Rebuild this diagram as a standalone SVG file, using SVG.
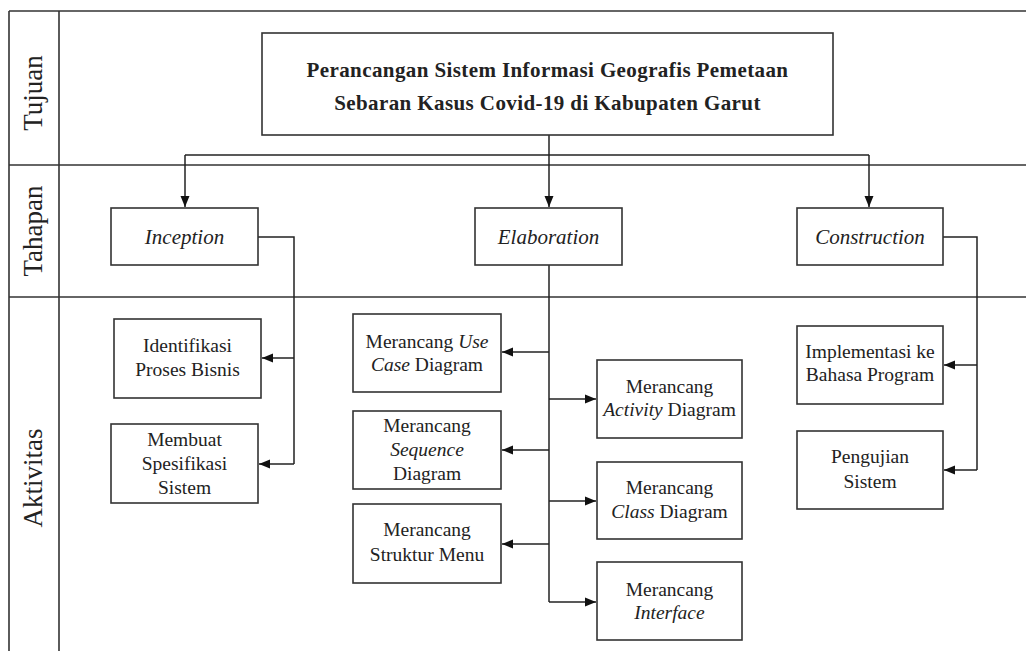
<svg xmlns="http://www.w3.org/2000/svg" width="1026" height="651" viewBox="0 0 1026 651">
<style>
.frame{stroke:#333;stroke-width:1.6;fill:none}
.box{fill:#fff;stroke:#333;stroke-width:1.6}
.conn{fill:none;stroke:#222;stroke-width:1.5}
text{font-family:"Liberation Serif","Times New Roman",serif;fill:#222}
.t{font-size:19.5px;text-anchor:middle}
.big{font-size:21px}
.title{font-size:21px;font-weight:bold;text-anchor:middle;letter-spacing:0.4px}
.lab{font-size:27px;text-anchor:middle}
.i{font-style:italic}
</style>
<defs>
<marker id="ah" markerUnits="userSpaceOnUse" markerWidth="12" markerHeight="10" refX="11" refY="5" orient="auto">
<path d="M0,0.5 L11,5 L0,9.5 Z" fill="#111"/>
</marker>
</defs>
<rect width="1026" height="651" fill="#fff"/>
<g id="frame">
<line class="frame" x1="9" y1="11" x2="1026" y2="11"/>
<line class="frame" x1="9" y1="11" x2="9" y2="651"/>
<line class="frame" x1="59" y1="11" x2="59" y2="651"/>
<line class="frame" x1="9" y1="165" x2="1026" y2="165"/>
<line class="frame" x1="9" y1="297" x2="1026" y2="297"/>
<text class="lab" transform="translate(42,93) rotate(-90)">Tujuan</text>
<text class="lab" transform="translate(42,231) rotate(-90)">Tahapan</text>
<text class="lab" transform="translate(42,478) rotate(-90)">Aktivitas</text>
</g>
<g id="connectors">
<path class="conn" d="M549,135 V155"/>
<path class="conn" d="M185,155 H869"/>
<path class="conn" d="M185,155 V207" marker-end="url(#ah)"/>
<path class="conn" d="M549,155 V207" marker-end="url(#ah)"/>
<path class="conn" d="M869,155 V207" marker-end="url(#ah)"/>
<path class="conn" d="M258,237 H294 V464"/>
<path class="conn" d="M294,358 H262" marker-end="url(#ah)"/>
<path class="conn" d="M294,464 H259" marker-end="url(#ah)"/>
<path class="conn" d="M549,265 V602"/>
<path class="conn" d="M549,352 H502" marker-end="url(#ah)"/>
<path class="conn" d="M549,450 H502" marker-end="url(#ah)"/>
<path class="conn" d="M549,544 H502" marker-end="url(#ah)"/>
<path class="conn" d="M549,399 H596" marker-end="url(#ah)"/>
<path class="conn" d="M549,501 H596" marker-end="url(#ah)"/>
<path class="conn" d="M549,602 H596" marker-end="url(#ah)"/>
<path class="conn" d="M943,237 H977 V470"/>
<path class="conn" d="M977,365 H944" marker-end="url(#ah)"/>
<path class="conn" d="M977,470 H944" marker-end="url(#ah)"/>
</g>
<g id="title">
<rect class="box" x="262" y="33" width="571" height="102"/>
<text class="title" x="547.5" y="77">Perancangan Sistem Informasi Geografis Pemetaan</text>
<text class="title" x="547.5" y="110">Sebaran Kasus Covid-19 di Kabupaten Garut</text>
</g>
<g id="inception">
<rect class="box" x="111" y="208" width="147" height="57"/>
<text class="t i big" x="184.5" y="244">Inception</text>
</g>
<g id="elaboration">
<rect class="box" x="475" y="208" width="147" height="57"/>
<text class="t i big" x="548.5" y="244">Elaboration</text>
</g>
<g id="construction">
<rect class="box" x="797" y="208" width="146" height="57"/>
<text class="t i big" x="870" y="244">Construction</text>
</g>
<g id="identifikasi">
<rect class="box" x="114" y="319" width="147" height="79"/>
<text class="t" x="187.5" y="352">Identifikasi</text>
<text class="t" x="187.5" y="376">Proses Bisnis</text>
</g>
<g id="spesifikasi">
<rect class="box" x="111" y="424" width="147" height="79"/>
<text class="t" x="184.5" y="446">Membuat</text>
<text class="t" x="184.5" y="470">Spesifikasi</text>
<text class="t" x="184.5" y="494">Sistem</text>
</g>
<g id="usecase">
<rect class="box" x="353" y="314" width="148" height="78"/>
<text class="t" x="427" y="348">Merancang <tspan class="i">Use</tspan></text>
<text class="t" x="427" y="371"><tspan class="i">Case</tspan> Diagram</text>
</g>
<g id="sequence">
<rect class="box" x="353" y="411" width="148" height="78"/>
<text class="t" x="427" y="432">Merancang</text>
<text class="t i" x="427" y="456">Sequence</text>
<text class="t" x="427" y="480">Diagram</text>
</g>
<g id="struktur">
<rect class="box" x="353" y="504" width="148" height="79"/>
<text class="t" x="427" y="536">Merancang</text>
<text class="t" x="427" y="561">Struktur Menu</text>
</g>
<g id="activity">
<rect class="box" x="597" y="360" width="145" height="78"/>
<text class="t" x="669.5" y="393">Merancang</text>
<text class="t" x="669.5" y="416"><tspan class="i">Activity</tspan> Diagram</text>
</g>
<g id="class">
<rect class="box" x="597" y="462" width="145" height="77"/>
<text class="t" x="669.5" y="494">Merancang</text>
<text class="t" x="669.5" y="518"><tspan class="i">Class</tspan> Diagram</text>
</g>
<g id="interface">
<rect class="box" x="597" y="562" width="145" height="78"/>
<text class="t" x="669.5" y="596">Merancang</text>
<text class="t i" x="669.5" y="619">Interface</text>
</g>
<g id="implementasi">
<rect class="box" x="797" y="326" width="146" height="78"/>
<text class="t" x="870" y="358">Implementasi ke</text>
<text class="t" x="870" y="381">Bahasa Program</text>
</g>
<g id="pengujian">
<rect class="box" x="797" y="431" width="146" height="78"/>
<text class="t" x="870" y="463">Pengujian</text>
<text class="t" x="870" y="488">Sistem</text>
</g>
</svg>
